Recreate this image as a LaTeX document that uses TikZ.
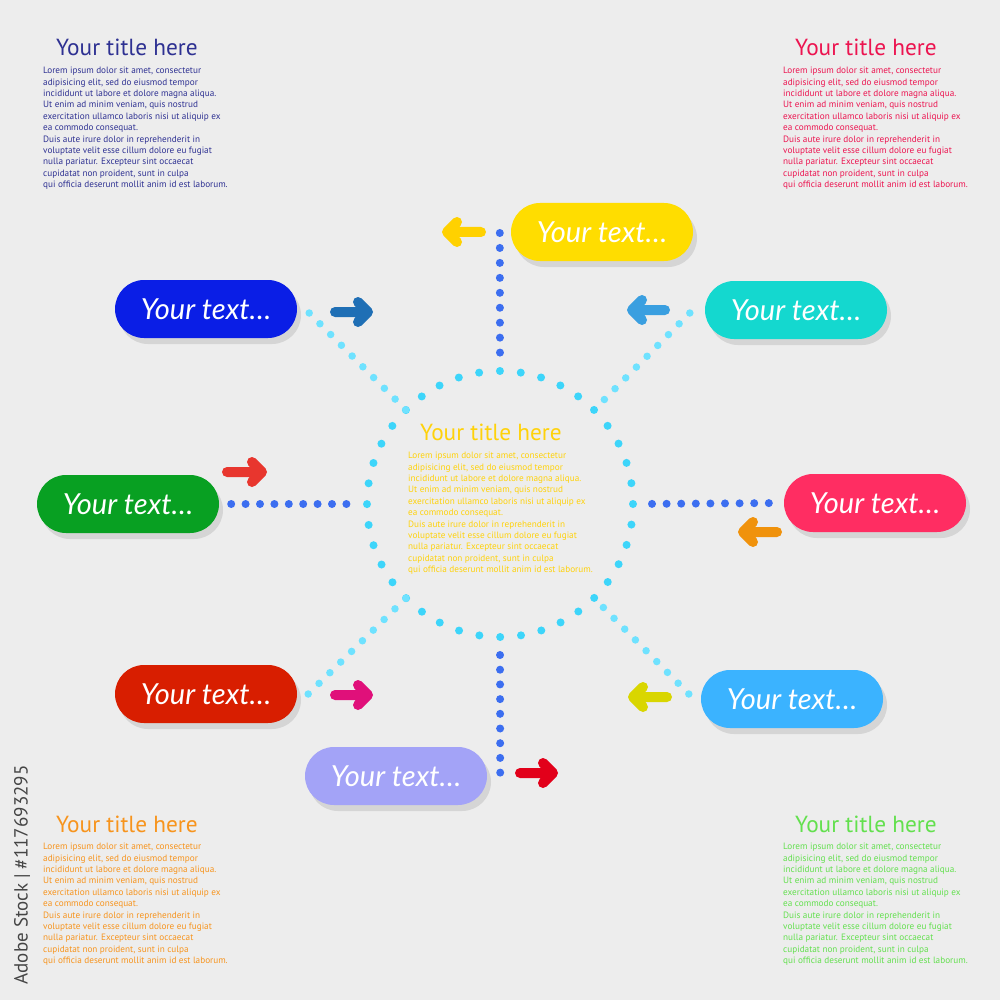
\documentclass[tikz,border=0pt]{standalone}
\usepackage{fontspec}
\setmainfont{PT Sans}
\newfontfamily\handfont{Lato}
\usetikzlibrary{shapes.misc,shadows,calc}

\definecolor{bggray}{HTML}{EDEDED}
\definecolor{navy}{HTML}{2E3192}
\definecolor{rosered}{HTML}{EC1450}
\definecolor{amber}{HTML}{F7941D}
\definecolor{lime}{HTML}{63E04E}
\definecolor{gold}{HTML}{FFD20A}
\definecolor{ringdot}{HTML}{3DD5FA}
\definecolor{slantdot}{HTML}{6FE2FF}
\definecolor{linedot}{HTML}{3C6EF0}
\definecolor{wmgray}{HTML}{454545}
\definecolor{pblue}{HTML}{0A1EE6}
\definecolor{pyellow}{HTML}{FFDD00}
\definecolor{pteal}{HTML}{14D8CF}
\definecolor{pgreen}{HTML}{08A022}
\definecolor{ppink}{HTML}{FF2D62}
\definecolor{pred}{HTML}{D81E00}
\definecolor{psky}{HTML}{3BB3FF}
\definecolor{plilac}{HTML}{A3A3F7}
\definecolor{asteel}{HTML}{1F6FB5}
\definecolor{ayellow}{HTML}{FFD100}
\definecolor{aazure}{HTML}{3A9FE0}
\definecolor{ared}{HTML}{E8362E}
\definecolor{aorange}{HTML}{F0920C}
\definecolor{amagenta}{HTML}{E0107A}
\definecolor{aolive}{HTML}{D9D600}
\definecolor{acrimson}{HTML}{E2001A}

\newcommand{\loremtext}{Lorem ipsum dolor sit amet, consectetur\\
adipisicing elit, sed do eiusmod tempor\\
incididunt ut labore et dolore magna aliqua.\\
Ut enim ad minim veniam, quis nostrud\\
exercitation ullamco laboris nisi ut aliquip ex\\
ea commodo consequat.\\
Duis aute irure dolor in reprehenderit in\\
voluptate velit esse cillum dolore eu fugiat\\
nulla pariatur. Excepteur sint occaecat\\
cupidatat non proident, sunt in culpa\\
qui officia deserunt mollit anim id est laborum.}

\begin{document}
\begin{tikzpicture}[x=1pt,y=-1pt,
  pill/.style={rounded rectangle,minimum width=182pt,minimum height=58pt,
    inner sep=0pt,fill=#1,text=white,
    font=\handfont\itshape\fontsize{29}{29}\selectfont,
    drop shadow={shadow xshift=4pt,shadow yshift=-6pt,opacity=.22}},
  heading/.style={anchor=base west,inner sep=0pt,text=#1,
    font=\fontsize{23.3}{23.3}\selectfont},
  body/.style={anchor=north west,inner sep=0pt,align=left,text=#1,
    font=\fontsize{9.2}{11.4}\selectfont},
  ringdots/.style={draw=ringdot,line width=8pt,line cap=round,
    dash pattern=on 0pt off 20.9pt},
  slantdots/.style={draw=slantdot,line width=7.5pt,line cap=round,
    dash pattern=on 0pt off 15.2pt},
  linedots/.style={draw=linedot,line width=8pt,line cap=round,
    dash pattern=on 0pt off #1},
  pointer/.style={draw=#1,line width=10pt,line cap=round,line join=round,
    preaction={draw=black,opacity=.18,transform canvas={shift={(1.5pt,-3pt)}}}}]

  \fill[bggray](0,0)rectangle(1000,1000);
  \useasboundingbox(0,0)rectangle(1000,1000);

  \node[rotate=90,text=wmgray,font=\fontsize{19}{19}\selectfont](stock)at(22,875){Adobe Stock | \#117693295};

  \node[heading=navy](tltitle)at(56,56){Your title here};
  \node[body=navy](tlbody)at(43,67){\loremtext};
  \node[heading=rosered](trtitle)at(795,56){Your title here};
  \node[body=rosered](trbody)at(783,67){\loremtext};
  \node[heading=amber](bltitle)at(56,832){Your title here};
  \node[body=amber](blbody)at(43,843){\loremtext};
  \node[heading=lime](brtitle)at(795,832){Your title here};
  \node[body=lime](brbody)at(783,843){\loremtext};

  \node[circle,minimum size=266pt,inner sep=0pt,outer sep=0pt,ringdots](hub)at(500,504){};
  \node[heading=gold](ctitle)at(420,440){Your title here};
  \node[body=gold](cbody)at(408,452){\loremtext};

  \node[pill=pblue](blue)at(206,309){Your text\ldots};
  \node[pill=pyellow](yellow)at(602,232){Your text\ldots};
  \node[pill=pteal](teal)at(796,310){Your text\ldots};
  \node[pill=pgreen](green)at(128,504){Your text\ldots};
  \node[pill=ppink](pink)at(875,503){Your text\ldots};
  \node[pill=pred](red)at(206,694){Your text\ldots};
  \node[pill=psky](sky)at(792,699){Your text\ldots};
  \node[pill=plilac](lilac)at(396,776){Your text\ldots};

  \draw[slantdots]($(blue.east)+(12,4)$)--(hub.135);
  \draw[slantdots]($(teal.west)+(-15,3)$)--(hub.45);
  \draw[slantdots]($(red.east)+(11,0)$)--(hub.225);
  \draw[slantdots]($(sky.west)+(-12,-5)$)--(hub.315);
  \draw[linedots=14.4pt,shorten <=12pt,shorten >=20pt](green.east)--(hub.west);
  \draw[linedots=14.6pt,shorten <=15pt,shorten >=19pt](pink.west)--(hub.east);
  \draw[linedots=14.95pt,shorten >=18pt]($(yellow.west)+(-11,1)$)--(hub.north);
  \draw[linedots=14.7pt,shorten <=18pt](hub.south)--($(lilac.east)+(13,-3)$);

  \draw[pointer=asteel](335,312)--(368,312)++(-10,-10)--++(10,10)--++(-10,10);
  \draw[pointer=ayellow](481,232)--(447,232)++(10,-10)--++(-10,10)--++(10,10);
  \draw[pointer=aazure](665,310)--(632,310)++(10,-10)--++(-10,10)--++(10,10);
  \draw[pointer=ared](227,472)--(262,472)++(-10,-10)--++(10,10)--++(-10,10);
  \draw[pointer=aorange](777,532)--(743,532)++(10,-10)--++(-10,10)--++(10,10);
  \draw[pointer=amagenta](335,695)--(368,695)++(-10,-10)--++(10,10)--++(-10,10);
  \draw[pointer=aolive](667,697)--(633,697)++(10,-10)--++(-10,10)--++(10,10);
  \draw[pointer=acrimson](520,773)--(553,773)++(-10,-10)--++(10,10)--++(-10,10);
\end{tikzpicture}
\end{document}
